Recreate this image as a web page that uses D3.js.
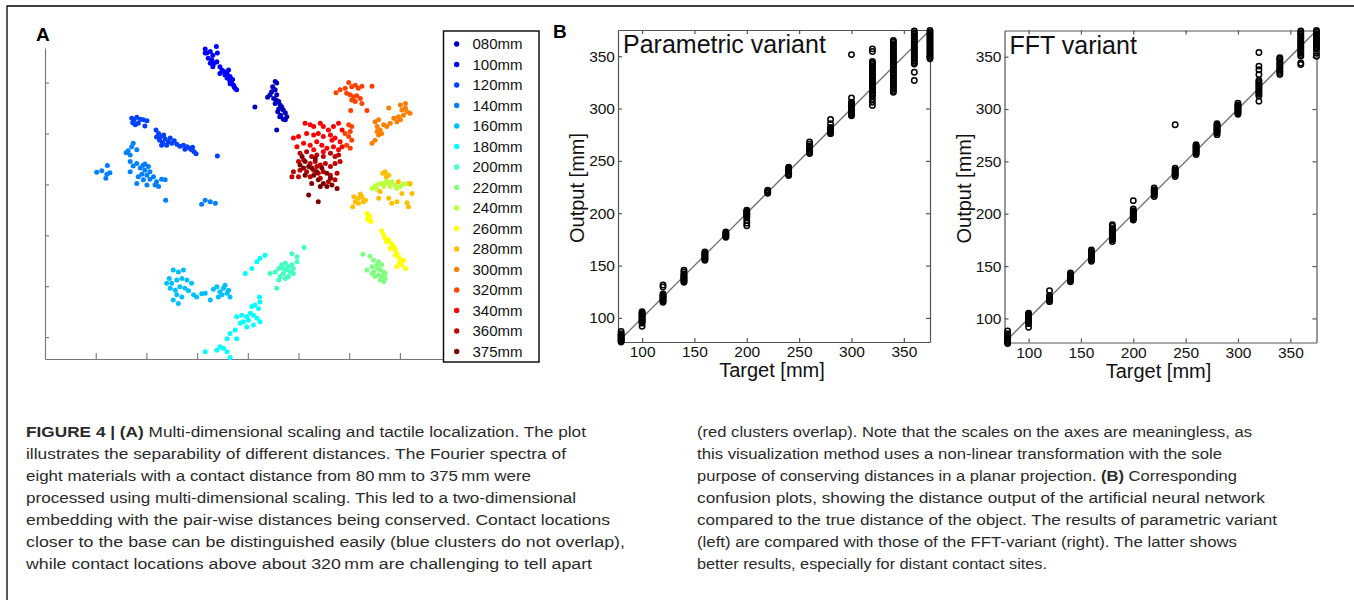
<!DOCTYPE html>
<html>
<head>
<meta charset="utf-8">
<script src="https://d3js.org/d3.v7.min.js"></script>
<style>
  body { margin: 0; background: #fff; }
  text { font-family: "Liberation Sans", Arial, Helvetica, sans-serif; }
</style>
</head>
<body>
<script>
// ---------- panel A: MDS embedding (axis units are meaningless) ----------
var distances = ['080mm','100mm','120mm','140mm','160mm','180mm','200mm','220mm',
                 '240mm','260mm','280mm','300mm','320mm','340mm','360mm','375mm'];
var jetColors = ['#0000bf','#0000ff','#0040ff','#0080ff','#00bfff','#00ffff','#40ffbf','#80ff80',
                 '#bfff40','#ffff00','#ffbf00','#ff8000','#ff4000','#ff0000','#bf0000','#800000'];
var mdsXTicks = [1,2,3,4,5,6,7];
var mdsYTicks = [0,1,2,3,4,5];

// one list of [x, y] per distance, same order as distances
var mdsClusters = [
  // 080
  [[4.54,5.02],[4.57,4.99],[4.49,4.92],[4.54,4.86],[4.44,4.76],[4.39,4.71],[4.51,4.69],[4.57,4.76],
   [4.61,4.63],[4.54,4.59],[4.64,4.56],[4.67,4.52],[4.61,4.48],[4.70,4.46],[4.74,4.41],[4.65,4.36],
   [4.77,4.33],[4.70,4.28],[4.63,4.33],[4.59,4.43],[4.56,4.66],[4.47,4.82],[4.74,4.27],[4.57,4.07],[4.14,4.52]],
  // 100
  [[3.16,5.66],[3.19,5.58],[3.26,5.61],[3.31,5.54],[3.38,5.71],[3.40,5.58],[3.22,5.48],[3.29,5.45],
   [3.34,5.38],[3.26,5.38],[3.39,5.41],[3.45,5.31],[3.49,5.25],[3.53,5.22],[3.59,5.18],[3.62,5.25],
   [3.65,5.12],[3.64,5.05],[3.68,5.02],[3.72,4.95],[3.75,4.89],[3.78,4.86],[3.73,4.92],[3.59,5.09],
   [3.55,5.15],[3.45,5.18],[3.65,4.98],[3.70,5.06],[3.31,5.31],[3.16,5.58]],
  // 120
  [[1.71,4.30],[1.76,4.27],[1.81,4.32],[1.88,4.28],[1.94,4.27],[2.01,4.25],[1.78,4.17],[1.84,4.20],
   [1.97,4.15],[1.73,4.21],[2.19,4.07],[2.24,4.00],[2.28,3.94],[2.34,3.97],[2.26,3.87],[2.32,3.82],
   [2.37,3.89],[2.43,3.84],[2.40,3.77],[2.50,3.81],[2.55,3.86],[2.60,3.79],[2.66,3.75],[2.73,3.77],
   [2.80,3.74],[2.85,3.71],[2.89,3.68],[2.94,3.64],[2.98,3.60],[2.91,3.73],[2.76,3.69],[2.20,3.93],
   [2.30,3.77],[2.47,3.91],[3.40,3.56]],
  // 140
  [[1.02,3.24],[1.12,3.27],[1.23,3.37],[1.22,3.20],[1.28,3.23],[1.20,3.12],[1.60,3.62],[1.64,3.66],
   [1.68,3.58],[1.74,3.81],[1.71,3.74],[1.81,3.68],[1.68,3.45],[1.74,3.36],[1.81,3.41],[1.88,3.32],
   [1.93,3.37],[1.97,3.28],[2.04,3.35],[2.07,3.25],[2.01,3.18],[1.91,3.20],[1.84,3.15],[1.81,3.02],
   [1.94,3.09],[2.07,3.10],[2.14,3.15],[2.20,3.05],[2.24,2.96],[2.30,3.10],[2.37,3.09],[2.17,2.99],
   [2.01,2.99],[1.68,3.25],[1.97,3.40],[2.38,2.69],[3.09,2.61],[3.16,2.69],[3.26,2.66],[3.36,2.63]],
  // 160
  [[2.40,1.06],[2.45,1.15],[2.53,1.32],[2.63,1.28],[2.73,1.32],[2.50,1.06],[2.60,1.12],[2.70,1.15],
   [2.80,1.12],[2.89,1.06],[2.47,0.96],[2.57,0.92],[2.66,0.99],[2.76,0.96],[2.60,0.83],[2.70,0.79],
   [2.53,0.73],[2.63,0.66],[2.83,0.91],[2.93,0.83],[2.99,0.79],[3.09,0.85],[3.16,0.86],[3.26,0.73],
   [3.32,0.94],[3.39,0.99],[3.45,0.89],[3.52,0.96],[3.59,0.86],[3.65,0.79],[3.49,0.83],[3.42,0.79],
   [3.62,0.92],[3.55,1.02]],
  // 180
  [[4.34,1.61],[4.24,1.55],[4.18,1.48],[4.08,1.35],[3.95,1.25],[4.23,0.79],[4.24,0.69],[4.14,0.63],
   [4.08,0.60],[4.21,0.56],[4.05,0.47],[4.11,0.43],[3.98,0.40],[4.18,0.37],[4.24,0.30],[4.01,0.33],
   [3.91,0.30],[4.11,0.24],[3.98,0.20],[3.88,0.43],[3.78,0.40],[3.85,0.27],[3.75,0.14],[3.65,0.07],
   [3.59,-0.03],[3.78,-0.03],[3.52,-0.22],[3.45,-0.19],[3.59,-0.29],[3.65,-0.40],[3.16,-0.29],[3.39,-0.26]],
  // 200
  [[4.54,1.28],[4.61,1.35],[4.67,1.42],[4.74,1.45],[4.80,1.38],[4.87,1.42],[4.70,1.25],[4.77,1.32],
   [4.84,1.28],[4.90,1.35],[4.64,1.19],[4.74,1.15],[4.80,1.19],[4.61,1.12],[4.57,0.96],[4.87,1.64],
   [4.97,1.58],[5.11,1.76],[4.97,1.48],[4.44,1.25],[4.90,1.25],[4.70,1.35]],
  // 220
  [[6.27,1.63],[6.41,1.59],[6.48,1.51],[6.58,1.48],[6.64,1.42],[6.45,1.38],[6.55,1.35],[6.61,1.32],
   [6.68,1.28],[6.48,1.28],[6.58,1.22],[6.64,1.19],[6.71,1.15],[6.61,1.12],[6.68,1.09],[6.51,1.19],
   [6.35,1.32],[6.45,1.25],[6.71,1.25],[6.55,1.42]],
  // 240
  [[6.45,2.92],[6.51,2.97],[6.58,3.01],[6.64,3.02],[6.71,3.03],[6.78,3.01],[6.84,3.05],[6.91,2.99],
   [6.94,2.92],[7.01,2.96],[6.68,2.96],[6.55,2.90],[7.07,3.01],[7.14,3.02],[7.20,3.00],[6.81,2.96],[6.74,3.07]],
  // 260
  [[6.35,2.43],[6.41,2.37],[6.38,2.30],[6.43,2.27],[6.36,2.33],[6.64,2.09],[6.68,2.01],[6.71,1.94],
   [6.74,1.87],[6.78,1.91],[6.84,1.83],[6.88,1.78],[6.91,1.71],[6.94,1.64],[6.97,1.58],[7.01,1.51],
   [7.07,1.51],[7.04,1.42],[7.11,1.35],[6.81,1.74],[6.91,1.61],[6.99,1.46],[6.94,1.38]],
  // 280
  [[6.07,2.56],[6.12,2.66],[6.18,2.73],[6.25,2.76],[6.28,2.66],[6.18,2.63],[6.32,2.69],[6.22,2.81],
   [6.09,2.76],[6.66,3.22],[6.71,3.25],[6.78,3.18],[6.73,3.15],[6.61,2.86],[6.78,2.73],[6.84,2.63],
   [6.94,2.66],[7.04,2.82],[7.14,2.64],[7.17,2.56],[7.24,2.82],[6.97,3.05],[7.20,3.02],[6.58,2.73]],
  // 300
  [[6.78,4.50],[7.01,4.56],[7.11,4.59],[7.04,4.46],[7.14,4.43],[7.20,4.40],[7.07,4.36],[7.01,4.27],
   [6.94,4.23],[6.88,4.30],[6.51,4.23],[6.58,4.27],[6.55,4.14],[6.61,4.07],[6.68,4.17],[6.74,4.14],
   [6.81,4.20],[6.58,3.97],[6.51,3.87],[6.45,3.81],[6.64,4.00],[6.55,4.04],[7.11,4.50],[6.97,4.33]],
  // 320
  [[5.74,4.80],[5.82,4.86],[5.92,4.89],[5.99,5.00],[6.05,4.92],[6.12,4.95],[6.18,4.89],[6.25,4.93],
   [6.45,4.93],[5.95,4.79],[6.02,4.76],[6.09,4.72],[6.15,4.74],[6.22,4.69],[6.05,4.66],[6.12,4.63],
   [6.25,4.59],[6.35,4.45],[6.03,4.45],[5.99,4.17],[6.05,4.14],[6.02,4.04],[5.99,3.94],[6.05,3.87],
   [5.95,3.77],[6.02,3.71],[5.92,4.00]],
  // 340
  [[4.90,3.91],[5.00,3.94],[5.13,4.20],[5.23,4.17],[5.30,4.14],[5.43,4.20],[5.49,4.14],[5.59,4.07],
   [5.69,4.14],[5.79,4.20],[5.86,4.07],[5.16,4.00],[5.30,3.97],[5.39,4.00],[5.49,3.94],[5.63,3.97],
   [5.72,3.91],[5.82,3.84],[5.10,3.81],[5.23,3.77],[5.36,3.84],[5.46,3.77],[5.56,3.71],[5.69,3.74],
   [5.79,3.68],[5.86,3.74],[4.97,3.74],[5.30,3.68],[5.66,3.87],[5.49,3.64]],
  // 360
  [[5.03,3.61],[5.16,3.64],[5.26,3.55],[5.36,3.58],[5.49,3.55],[5.63,3.61],[5.72,3.55],[5.79,3.58],
   [5.00,3.45],[5.10,3.48],[5.23,3.41],[5.33,3.45],[5.43,3.38],[5.53,3.41],[5.63,3.35],[5.72,3.41],
   [5.82,3.45],[4.90,3.25],[5.03,3.28],[5.16,3.25],[5.30,3.28],[5.39,3.22],[5.49,3.25],[5.63,3.18],
   [5.76,3.22],[4.87,3.15],[5.00,3.15],[5.23,3.15],[5.43,3.12],[5.59,3.05],[5.72,3.09],[5.36,3.35]],
  // 375
  [[5.07,3.55],[5.13,3.45],[5.20,3.35],[5.10,3.32],[5.26,3.32],[5.36,3.25],[5.46,3.32],[5.56,3.22],
   [5.30,3.18],[5.13,3.18],[5.39,3.09],[5.49,3.02],[5.56,2.96],[5.66,2.99],[5.76,2.92],[5.26,3.02],
   [5.43,2.96],[5.20,2.79],[5.39,2.66],[5.03,3.38],[5.63,3.12],[5.33,3.51]]
];

// ---------- panel B: network output per target distance ----------
var targets = [80,100,120,140,160,180,200,220,240,260,280,300,320,340,360,375];
var confTicks = [100,150,200,250,300,350];

var paramOutputs = [
  [77,78,79,80,81,82,83,84,85,87],
  [92,95,96,97,98,99,100,101,102,103,104,105,106],
  [115,116,117,118,119,120,121,122,123,129.5,131.5],
  [134,135,136,137,138,139,140,141,142,144,145.5],
  [155,156,157,158,159,160,161,162,163],
  [177,178,179,180,181,182],
  [188,190.5,193,196,197,198,199,200,201,202,203],
  [219,220,221,222],
  [236,237,238,239,240,241,242,243,244],
  [257,258,259,260,261,262,264,266,268],
  [276,277,278,279,280,281,282,285.5,289.5],
  [293,294,295,296,297,298,299,300,301,302,303,304,305,306,310,351.5],
  [303,306,309,312,313.5,315,316.5,318,319.5,321,322.5,324,325.5,327,328.5,330,331.5,333,334.5,336,
   337.5,339,340.5,342,343.5,345,354.5,357],
  [315.5,317,318.5,320,321.5,323,324.5,326,327.5,329,330.5,332,333.5,335,336.5,338,339.5,341,342.5,
   344,345.5,347,348.5,350,351.5,353,354.5,356,357.5,359,360.5,362,363.5,365],
  [326.8,334.7,342.5,344,345.5,347,348.5,350,351.5,353,354.5,356,357.5,359,360.5,362,363.5,365,366.5,
   368,369.5,371,372.5,374],
  [347.5,349,350.5,352,353.5,355,356.5,358,359.5,361,362.5,364,365.5,367,368.5,370,371.5,373,374.5]
];

var fftOutputs = [
  [76,77,78,79,80,81,82,83,84,85.5,88],
  [91.5,95,96,97,98,99,100,101,102,103,104,105],
  [116,117,118,119,120,121,122,126.5],
  [135,136,137,138,139,140,141,142,143.5],
  [154.5,156,157,158,159,160,161,162,163,164,165.5],
  [173.5,175,176,177,178,179,180,181,182,183,184,185,186,188,189.5],
  [194,195,196,197,198,199,200,201,202,203,204.5,212.5],
  [216.5,218,219,220,221,222,223,224.5],
  [235.5,237,238,239,240,241,242,243.5,285],
  [256.5,258,259,260,261,262,263,264,265,266],
  [275.5,277,278,279,280,281,282,283,284,285,286],
  [295,296,297,298,299,300,301,302,303,304,305.5],
  [307.5,312.5,314,315.5,317,318.5,320,321.5,323,324.5,326,327.5,333,337.5,341,354],
  [333,334.5,336,337.5,339,340.5,342,343.5,345,346.5,348,349],
  [342.5,344,350.5,352,353.5,355,356.5,358,359.5,361,362.5,364,365.5,367,368.5,370,371.5,373,374.5],
  [350.5,353.5,357,358.5,360,361.5,363,364.5,366,367.5,369,370.5,372,373.5,375]
];

// caption lines, each a list of [text, bold]
var captionLeft = [
  [['FIGURE 4 | (A)', true], [' Multi-dimensional scaling and tactile localization. The plot', false]],
  [['illustrates the separability of different distances. The Fourier spectra of', false]],
  [['eight materials with a contact distance from 80\u2009mm to 375\u2009mm were', false]],
  [['processed using multi-dimensional scaling. This led to a two-dimensional', false]],
  [['embedding with the pair-wise distances being conserved. Contact locations', false]],
  [['closer to the base can be distinguished easily (blue clusters do not overlap),', false]],
  [['while contact locations above about 320\u2009mm are challenging to tell apart', false]]
];
var captionRight = [
  [['(red clusters overlap). Note that the scales on the axes are meaningless, as', false]],
  [['this visualization method uses a non-linear transformation with the sole', false]],
  [['purpose of conserving distances in a planar projection. ', false], ['(B)', true], [' Corresponding', false]],
  [['confusion plots, showing the distance output of the artificial neural network', false]],
  [['compared to the true distance of the object. The results of parametric variant', false]],
  [['(left) are compared with those of the FFT-variant (right). The latter shows', false]],
  [['better results, especially for distant contact sites.', false]]
];
var captionLeftWidths = [560, 540, 505, 550, 584, 599, 566];
var captionRightWidths = [555, 525, 540, 568, 580, 540, 350];

var W = 1354, H = 600;
var svg = d3.select('body').append('svg').attr('width', W).attr('height', H);

// page frame
svg.append('path').attr('d', 'M7,' + H + 'V6H' + W)
  .attr('fill', 'none').attr('stroke', '#000').attr('stroke-width', 1.3);

// ---------- panel A ----------
var xA = d3.scaleLinear().domain([0, 8]).range([45, 450.6]);
var yA = d3.scaleLinear().domain([-0.43, 5.68]).range([359, 48]);

var gxA = svg.append('g').attr('transform', 'translate(0,359)')
  .call(d3.axisBottom(xA).tickValues(mdsXTicks).tickSize(-6).tickSizeOuter(0).tickFormat(''));
var gyA = svg.append('g').attr('transform', 'translate(45,0)')
  .call(d3.axisLeft(yA).tickValues(mdsYTicks).tickSize(-4).tickSizeOuter(0).tickFormat(''));
[gxA, gyA].forEach(function(g){
  g.selectAll('.domain, .tick line').attr('stroke', '#777').attr('stroke-width', 1.1);
});

mdsClusters.forEach(function(pts, i){
  svg.append('g').selectAll('circle').data(pts).join('circle')
    .attr('cx', function(d){ return xA(d[0]) })
    .attr('cy', function(d){ return yA(d[1]) })
    .attr('r', 2.5)
    .attr('fill', jetColors[i]);
});

svg.append('text').attr('x', 36).attr('y', 41)
  .attr('font-size', 19).attr('font-weight', 'bold').text('A');

// legend
var leg = svg.append('g');
leg.append('rect').attr('x', 443.5).attr('y', 31).attr('width', 95.5).attr('height', 331)
  .attr('fill', '#fff').attr('stroke', '#111').attr('stroke-width', 1.5);
var legY = d3.scalePoint().domain(distances).range([44, 351.5]);
distances.forEach(function(name, i){
  leg.append('circle').attr('cx', 456.7).attr('cy', legY(name)).attr('r', 2.7).attr('fill', jetColors[i]);
  leg.append('text').attr('x', 472.5).attr('y', legY(name) + 5.3)
    .attr('font-size', 15).attr('fill', '#111').text(name);
});

// ---------- panel B ----------
function drawConfusion(left, top, title, outputs){
  var size = 312;
  var x = d3.scaleLinear().domain([77, 375]).range([left, left + size]);
  var y = d3.scaleLinear().domain([77, 375]).range([top + size, top]);
  var g = svg.append('g');

  var axes = [
    g.append('g').attr('transform', 'translate(0,' + (top + size) + ')')
      .call(d3.axisBottom(x).tickValues(confTicks).tickSize(-4).tickSizeOuter(0).tickPadding(4)),
    g.append('g').attr('transform', 'translate(' + left + ',0)')
      .call(d3.axisLeft(y).tickValues(confTicks).tickSize(-4).tickSizeOuter(0).tickPadding(3)),
    g.append('g').attr('transform', 'translate(0,' + top + ')')
      .call(d3.axisTop(x).tickValues(confTicks).tickSize(-4).tickSizeOuter(0).tickFormat('')),
    g.append('g').attr('transform', 'translate(' + (left + size) + ',0)')
      .call(d3.axisRight(y).tickValues(confTicks).tickSize(-4).tickSizeOuter(0).tickFormat(''))
  ];
  axes.forEach(function(a){
    a.attr('font-size', 15.5).attr('font-family', null);
    a.selectAll('.domain, .tick line').attr('stroke', '#555').attr('stroke-width', 1.2);
    a.selectAll('text').attr('fill', '#111');
  });

  // identity line
  g.append('line')
    .attr('x1', x(77)).attr('y1', y(77)).attr('x2', x(375)).attr('y2', y(375))
    .attr('stroke', '#707070').attr('stroke-width', 1.3);

  targets.forEach(function(t, i){
    g.append('g').selectAll('circle').data(outputs[i]).join('circle')
      .attr('cx', x(t))
      .attr('cy', function(d){ return y(d) })
      .attr('r', 2.7)
      .attr('fill', 'none').attr('stroke', '#000').attr('stroke-width', 1.5);
  });

  g.append('text').attr('x', left + 5).attr('y', top + 23)
    .attr('font-size', 25).attr('fill', '#111').text(title);
  g.append('text').attr('x', left + size / 2 - 2).attr('y', top + size + 35)
    .attr('text-anchor', 'middle').attr('font-size', 20).attr('fill', '#111').text('Target [mm]');
  g.append('text')
    .attr('transform', 'translate(' + (left - 34) + ',' + (top + size / 2 + 2) + ') rotate(-90)')
    .attr('text-anchor', 'middle').attr('font-size', 20).attr('fill', '#111').text('Output [mm]');
}

drawConfusion(618, 30, 'Parametric variant', paramOutputs);
drawConfusion(1004.5, 30.5, 'FFT variant', fftOutputs);

svg.append('text').attr('x', 553).attr('y', 38.3)
  .attr('font-size', 19).attr('font-weight', 'bold').text('B');

// ---------- caption ----------
function drawCaption(lines, widths, x0){
  lines.forEach(function(segs, i){
    var t = svg.append('text').attr('x', x0).attr('y', 437 + i * 22)
      .attr('font-family', 'Roboto, "Liberation Sans", sans-serif')
      .attr('font-size', 15.5).attr('fill', '#2a2a2a')
      .attr('textLength', widths[i]).attr('lengthAdjust', 'spacingAndGlyphs');
    segs.forEach(function(s){
      t.append('tspan').attr('font-weight', s[1] ? 'bold' : 'normal').text(s[0]);
    });
  });
}
drawCaption(captionLeft, captionLeftWidths, 26);
drawCaption(captionRight, captionRightWidths, 697);
</script>
</body>
</html>
